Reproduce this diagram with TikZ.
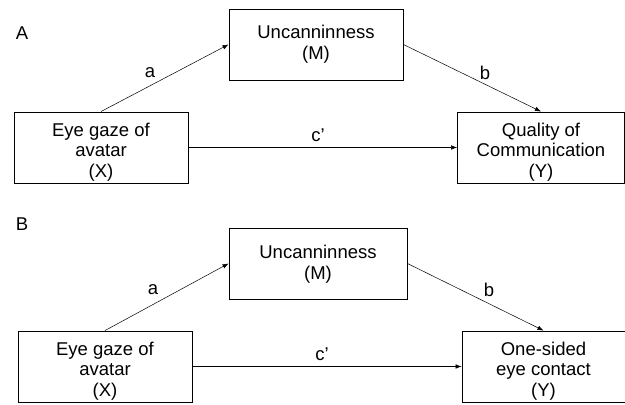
\documentclass[tikz,border=0pt]{standalone}
\usepackage{fontspec}
\setmainfont{Liberation Sans}
\usetikzlibrary{arrows.meta,calc}
\begin{document}
\begin{tikzpicture}[x=1pt,y=1pt,
  box/.style={draw=black,line width=0.9pt,minimum height=71pt,inner sep=0pt},
  txt/.style={align=center,inner sep=0pt,font=\fontsize{18.5}{20.5}\selectfont},
  lbl/.style={inner sep=0pt,font=\fontsize{18.5}{20.5}\selectfont},
  arr/.style={line width=0.5pt,-{Latex[length=6pt,width=4.5pt]}}]
\useasboundingbox (0,0) rectangle (625,405);
% Panel A
\node[lbl] (lA) at (22,372) {A};
\node[box,minimum width=174pt] (MA) at (316,360.5) {};
\node[txt] (tMA) at (316,361) {Uncanninness\\(M)};
\node[box,minimum width=174pt] (XA) at (101,257.5) {};
\node[txt] (tXA) at (101,253) {Eye gaze of\\avatar\\(X)};
\node[box,minimum width=167pt] (YA) at (541,257.5) {};
\node[txt] (tYA) at (541,253) {Quality of\\Communication\\(Y)};
\draw[arr] (XA.north) -- (MA.west);
\draw[arr] (MA.east) -- (YA.north);
\draw[arr] (XA.east) -- (YA.west);
\node[lbl] (aA) at (150,332) {a};
\node[lbl] (bA) at (485,332) {b};
\node[lbl] (cA) at (318,270) {c’};
% Panel B
\node[lbl] (lB) at (22,181) {B};
\node[box,minimum width=178pt] (MB) at (318,141.5) {};
\node[txt] (tMB) at (318,141) {Uncanninness\\(M)};
\node[box,minimum width=174pt] (XB) at (105,38.5) {};
\node[txt] (tXB) at (105,34) {Eye gaze of\\avatar\\(X)};
\node[box,minimum width=163pt] (YB) at (543.5,38.5) {};
\node[txt] (tYB) at (543.5,34) {One-sided\\eye contact\\(Y)};
\draw[arr] (XB.north) -- (MB.west);
\draw[arr] (MB.east) -- (YB.north);
\draw[arr] (XB.east) -- (YB.west);
\node[lbl] (aB) at (153,115) {a};
\node[lbl] (bB) at (489,115) {b};
\node[lbl] (cB) at (322,51) {c’};
\end{tikzpicture}
\end{document}
